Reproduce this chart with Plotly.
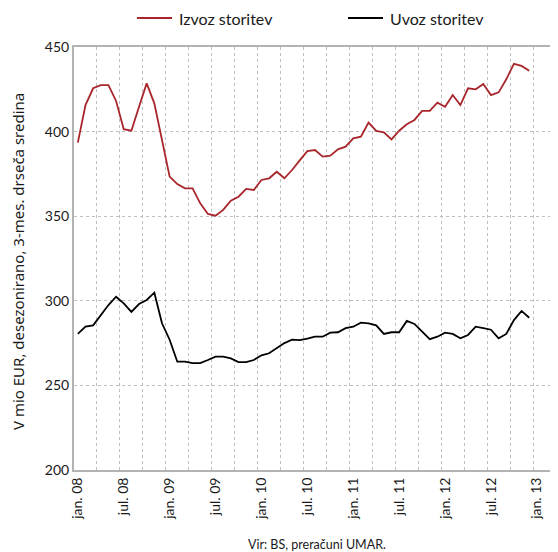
import plotly.graph_objects as go

months = list(range(60))  # jan.08 .. dec.12 (month index)
tick_pos = [0, 6, 12, 18, 24, 30, 36, 42, 48, 54, 60]
tick_labels = ["jan. 08", "jul. 08", "jan. 09", "jul. 09", "jan. 10", "jul. 10",
               "jan. 11", "jul. 11", "jan. 12", "jul. 12", "jan. 13"]
series_names = ["Izvoz storitev", "Uvoz storitev"]

izvoz = [393.5, 415.7, 425.6, 427.5, 427.5, 418.1, 401.4, 400.5, 414.7, 428.5,
         416.7, 395.0, 373.4, 369.0, 366.5, 366.5, 357.6, 351.3, 350.3, 353.7,
         359.2, 361.5, 366.1, 365.5, 371.4, 372.4, 376.3, 372.4, 377.3, 383.0,
         388.5, 389.1, 385.2, 385.8, 389.5, 391.1, 396.0, 397.0, 405.3, 400.4,
         399.6, 395.4, 400.5, 404.3, 406.9, 412.2, 412.2, 417.1, 414.7, 421.6,
         415.7, 425.6, 425.0, 428.1, 421.6, 423.2, 430.9, 440.0, 438.8, 436.0]

uvoz = [280.4, 284.7, 285.5, 291.6, 297.5, 302.4, 298.5, 293.4, 298.1, 300.5,
        304.8, 286.7, 277.0, 264.0, 264.0, 263.2, 263.2, 265.0, 267.0, 267.0,
        266.0, 263.8, 263.8, 265.0, 267.8, 269.0, 272.0, 275.0, 277.0, 276.8,
        277.6, 278.8, 278.8, 281.2, 281.4, 283.8, 284.7, 287.1, 286.7, 285.5,
        280.4, 281.4, 281.4, 288.1, 286.3, 281.8, 277.3, 278.8, 281.2, 280.4,
        277.8, 279.8, 284.7, 283.9, 282.9, 277.8, 280.4, 288.6, 294.0, 290.0]

RED = "#A8262B"
GRID = "#BFBFBF"
AXIS = "#B3B3B3"
TXT = "#1a1a1a"
FONT = "Lato"

OFF = 8  # default page body margin
W, H = 558 - OFF, 552 - OFF
PL, PR, PT, PB = 74, 556, 47, 470  # plot area in page pixels
ML, MR, MT, MB = PL - OFF, W - (PR - OFF), PT - OFF, H - (PB - OFF)
PW, PH = W - ML - MR, H - MT - MB


def px_x(x):
    return (x - PL) / PW


def px_y(y):
    return (PB - y) / PH


fig = go.Figure()
colors = [RED, "#000000"]
for name, vals, col in zip(series_names, [izvoz, uvoz], colors):
    fig.add_trace(go.Scatter(x=months, y=vals, mode="lines", name=name,
                             line=dict(color=col, width=1.8), showlegend=False))

fig.update_layout(
    width=W, height=H,
    margin=dict(l=ML, r=MR, t=MT, b=MB, autoexpand=False),
    paper_bgcolor="white", plot_bgcolor="white",
    font=dict(family=FONT, size=14, color=TXT),
    showlegend=False,
    xaxis=dict(range=[-0.5, 62.5], tickmode="array", tickvals=tick_pos, ticktext=tick_labels,
               tickangle=-90, showgrid=False, ticks="", showline=True, linecolor=AXIS,
               linewidth=2, mirror=True, zeroline=False,
               tickfont=dict(size=14, color=TXT),
               minor=dict(tickvals=[2.5 + 3 * k for k in range(20)], showgrid=True,
                          gridcolor=GRID, griddash="dot", gridwidth=1, ticks="")),
    yaxis=dict(range=[200, 450], dtick=50, tick0=200, showgrid=True, gridcolor=GRID,
               griddash="dot", gridwidth=1, ticks="", showline=True, linecolor=AXIS,
               linewidth=2, mirror=True, zeroline=False,
               tickfont=dict(size=14, color=TXT)),
)

# y-axis title
fig.add_annotation(text="V mio EUR, desezonirano, 3-mes. drseča sredina",
                   xref="paper", yref="paper", x=px_x(18), y=px_y(262),
                   xanchor="center", yanchor="middle", textangle=-90, showarrow=False,
                   font=dict(family="Noto Sans", size=15, color=TXT))

# legend (drawn manually at the top)
for name, col, x0 in zip(series_names, colors, [137, 348]):
    fig.add_shape(type="line", xref="paper", yref="paper",
                  x0=px_x(x0), x1=px_x(x0 + 35), y0=px_y(18), y1=px_y(18),
                  line=dict(color=col, width=1.8))
    fig.add_annotation(text=name, xref="paper", yref="paper",
                       x=px_x(x0 + 40), y=px_y(18), xanchor="left", yanchor="middle",
                       showarrow=False, font=dict(size=16, color=TXT))

# source note
fig.add_annotation(text="Vir: BS, preračuni UMAR.", xref="paper", yref="paper",
                   x=px_x(317), y=px_y(544), xanchor="center", yanchor="middle",
                   showarrow=False, font=dict(size=12.5, color=TXT))

fig.write_html("out.html")
